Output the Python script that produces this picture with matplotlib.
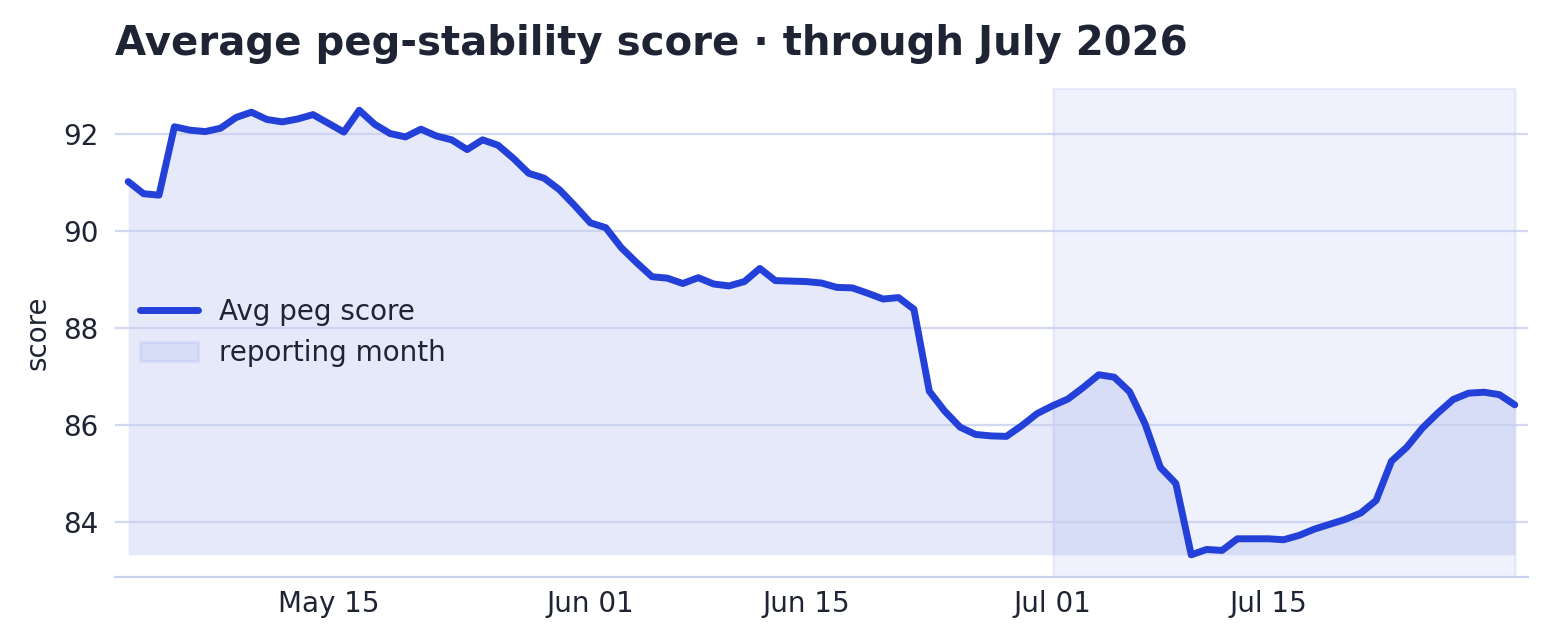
import numpy as np
import pandas as pd
import matplotlib
matplotlib.use("Agg")
import matplotlib.pyplot as plt
import matplotlib.dates as mdates

start_date = "2026-05-02"
end_date = "2026-07-31"
scores = [
    91.02, 90.77, 90.74, 92.15, 92.08, 92.05, 92.12, 92.34, 92.45, 92.30,
    92.25, 92.31, 92.40, 92.22, 92.04, 92.49, 92.20, 92.01, 91.94, 92.10,
    91.96, 91.88, 91.68, 91.88, 91.77, 91.50, 91.19, 91.09, 90.85, 90.52,
    90.17, 90.07, 89.66, 89.35, 89.06, 89.03, 88.92, 89.04, 88.91, 88.87,
    88.96, 89.23, 88.98, 88.97, 88.96, 88.93, 88.84, 88.83, 88.72, 88.60,
    88.63, 88.39, 86.70, 86.29, 85.96, 85.81, 85.78, 85.77, 85.99, 86.24,
    86.40, 86.54, 86.78, 87.04, 86.99, 86.69, 86.03, 85.13, 84.80, 83.33,
    83.44, 83.42, 83.66, 83.66, 83.66, 83.64, 83.73, 83.86, 83.96, 84.06,
    84.19, 84.45, 85.26, 85.55, 85.94, 86.25, 86.53, 86.66, 86.68, 86.63,
    86.42,
]
span_start = "2026-07-01"
span_end = "2026-07-31"
tick_dates = ["2026-05-15", "2026-06-01", "2026-06-15", "2026-07-01", "2026-07-15"]
y_ticks = [84, 86, 88, 90, 92]

dates = pd.date_range(start_date, end_date, freq="D")
y = np.array(scores)

LINE = "#2340d8"
TEXT = "#1e2433"
GRID = "#c7cfee"

fig = plt.figure(figsize=(7.76, 3.205), dpi=200)
ax = fig.add_axes([0.0741, 0.0998, 0.9104, 0.7629])

ax.fill_between(dates, y, y.min(), color=LINE, alpha=0.115, linewidth=0, zorder=1)
ax.axvspan(pd.Timestamp(span_start), pd.Timestamp(span_end), color=LINE, alpha=0.07,
           linewidth=1.0, zorder=0.5, label="reporting month")
ax.plot(dates, y, color=LINE, linewidth=2.5, solid_capstyle="round",
        solid_joinstyle="round", zorder=3, label="Avg peg score")

ax.margins(x=0.0095)
ax.set_yticks(y_ticks)
ax.set_xticks([pd.Timestamp(d) for d in tick_dates])
ax.xaxis.set_major_formatter(mdates.DateFormatter("%b %d"))

ax.grid(axis="y", color=GRID, linewidth=0.8, alpha=0.8, zorder=2)
ax.grid(axis="x", visible=False)
ax.set_axisbelow(False)
for s in ["top", "right", "left"]:
    ax.spines[s].set_visible(False)
ax.spines["bottom"].set_color("#c9d3ef")
ax.spines["bottom"].set_linewidth(0.8)
ax.tick_params(axis="both", length=0, labelsize=10, labelcolor=TEXT)
ax.tick_params(axis="y", pad=6)
ax.tick_params(axis="x", pad=4.5)
ax.set_ylabel("score", fontsize=10, color=TEXT, labelpad=4)

ax.set_title("Average peg-stability score · through July 2026", loc="left",
             fontsize=14.5, fontweight="bold", color=TEXT, pad=12)

handles, labels = ax.get_legend_handles_labels()
order = [labels.index("Avg peg score"), labels.index("reporting month")]
leg = ax.legend([handles[i] for i in order], [labels[i] for i in order],
                loc="center left", frameon=False, fontsize=10, labelcolor=TEXT,
                handlelength=2.1, handletextpad=0.75)

fig.savefig("out.png", dpi=200)
